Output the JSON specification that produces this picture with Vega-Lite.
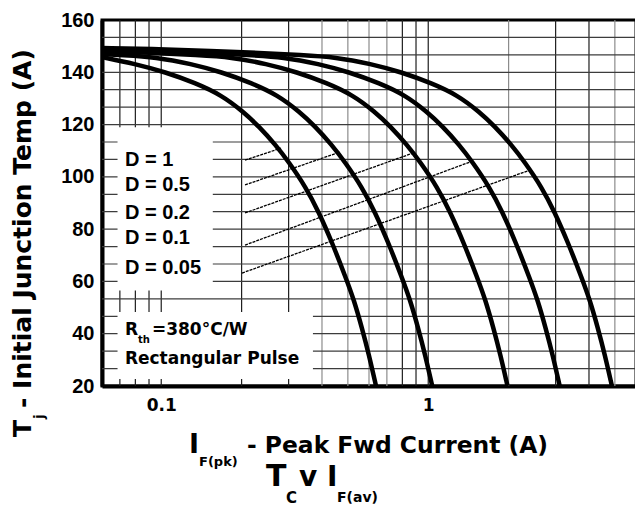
{
  "$schema": "https://vega.github.io/schema/vega-lite/v6.json",
  "width": 534,
  "height": 366,
  "autosize": {"type": "none"},
  "padding": {"left": 102, "top": 20, "right": 0, "bottom": 122},
  "background": "white",
  "config": {
    "view": {"stroke": "black", "strokeWidth": 3},
    "axis": {"labelColor": "black", "domainColor": "black"}
  },
  "datasets": {
    "vdark": [{"x": 0.07}, {"x": 0.08}, {"x": 0.09}, {"x": 0.1}, {"x": 0.2}, {"x": 0.3}, {"x": 0.8}, {"x": 0.9}, {"x": 1}, {"x": 3}, {"x": 4}],
    "vlight": [{"x": 0.4}, {"x": 0.5}, {"x": 0.6}, {"x": 0.7}, {"x": 2}, {"x": 5}],
    "hgrid": [{"y": 26.667}, {"y": 33.333}, {"y": 40}, {"y": 46.667}, {"y": 53.333}, {"y": 60}, {"y": 66.667}, {"y": 73.333}, {"y": 80}, {"y": 86.667}, {"y": 93.333}, {"y": 100}, {"y": 106.667}, {"y": 113.333}, {"y": 120}, {"y": 126.667}, {"y": 133.333}, {"y": 140}, {"y": 146.667}, {"y": 153.333}],
    "masks": [
      {"x": 0.0686, "x2": 0.156, "y": 56.5, "y2": 119},
      {"x": 0.0686, "x2": 0.37, "y": 22.7, "y2": 48.3}
    ],
    "leaders": [
      {"id": "1", "x": 0.206, "y": 106.4}, {"id": "1", "x": 0.281, "y": 111.0},
      {"id": "0.5", "x": 0.206, "y": 96.9}, {"id": "0.5", "x": 0.467, "y": 109.5},
      {"id": "0.2", "x": 0.206, "y": 86.2}, {"id": "0.2", "x": 0.877, "y": 109.1},
      {"id": "0.1", "x": 0.206, "y": 73.9}, {"id": "0.1", "x": 1.471, "y": 106.1},
      {"id": "0.05", "x": 0.2007, "y": 63.2}, {"id": "0.05", "x": 2.405, "y": 102.6}
    ],
    "curves": [
      {"D": "1", "x": 0.06, "y": 145.8}, {"D": "1", "x": 0.0798, "y": 143.2}, {"D": "1", "x": 0.1035, "y": 140.1}, {"D": "1", "x": 0.1342, "y": 135.9}, {"D": "1", "x": 0.1681, "y": 131.3}, {"D": "1", "x": 0.2034, "y": 124.8}, {"D": "1", "x": 0.2316, "y": 119.4}, {"D": "1", "x": 0.2683, "y": 112.2}, {"D": "1", "x": 0.3001, "y": 105.7}, {"D": "1", "x": 0.3478, "y": 96.1}, {"D": "1", "x": 0.3893, "y": 86.5}, {"D": "1", "x": 0.4356, "y": 75.1}, {"D": "1", "x": 0.4918, "y": 61.3}, {"D": "1", "x": 0.527, "y": 52.9}, {"D": "1", "x": 0.5647, "y": 42.2}, {"D": "1", "x": 0.6001, "y": 31.8}, {"D": "1", "x": 0.6374, "y": 20},
      {"D": "0.5", "x": 0.06, "y": 147.0}, {"D": "0.5", "x": 0.0707, "y": 146.6}, {"D": "0.5", "x": 0.0958, "y": 145.8}, {"D": "0.5", "x": 0.1296, "y": 143.2}, {"D": "0.5", "x": 0.168, "y": 140.1}, {"D": "0.5", "x": 0.2179, "y": 135.9}, {"D": "0.5", "x": 0.2729, "y": 131.3}, {"D": "0.5", "x": 0.3302, "y": 124.8}, {"D": "0.5", "x": 0.376, "y": 119.4}, {"D": "0.5", "x": 0.4356, "y": 112.2}, {"D": "0.5", "x": 0.4872, "y": 105.7}, {"D": "0.5", "x": 0.5647, "y": 96.1}, {"D": "0.5", "x": 0.6321, "y": 86.5}, {"D": "0.5", "x": 0.7072, "y": 75.1}, {"D": "0.5", "x": 0.7985, "y": 61.3}, {"D": "0.5", "x": 0.8556, "y": 52.9}, {"D": "0.5", "x": 0.9168, "y": 42.2}, {"D": "0.5", "x": 0.9743, "y": 31.8}, {"D": "0.5", "x": 1.0349, "y": 20},
      {"D": "0.2", "x": 0.06, "y": 148.1}, {"D": "0.2", "x": 0.0958, "y": 147.4}, {"D": "0.2", "x": 0.1353, "y": 146.6}, {"D": "0.2", "x": 0.1834, "y": 145.8}, {"D": "0.2", "x": 0.248, "y": 143.2}, {"D": "0.2", "x": 0.3217, "y": 140.1}, {"D": "0.2", "x": 0.4171, "y": 135.9}, {"D": "0.2", "x": 0.5225, "y": 131.3}, {"D": "0.2", "x": 0.6322, "y": 124.8}, {"D": "0.2", "x": 0.7198, "y": 119.4}, {"D": "0.2", "x": 0.8339, "y": 112.2}, {"D": "0.2", "x": 0.9327, "y": 105.7}, {"D": "0.2", "x": 1.081, "y": 96.1}, {"D": "0.2", "x": 1.21, "y": 86.5}, {"D": "0.2", "x": 1.354, "y": 75.1}, {"D": "0.2", "x": 1.529, "y": 61.3}, {"D": "0.2", "x": 1.638, "y": 52.9}, {"D": "0.2", "x": 1.755, "y": 42.2}, {"D": "0.2", "x": 1.865, "y": 31.8}, {"D": "0.2", "x": 1.981, "y": 20},
      {"D": "0.1", "x": 0.06, "y": 148.9}, {"D": "0.1", "x": 0.0974, "y": 148.1}, {"D": "0.1", "x": 0.1502, "y": 147.4}, {"D": "0.1", "x": 0.2123, "y": 146.6}, {"D": "0.1", "x": 0.2876, "y": 145.8}, {"D": "0.1", "x": 0.389, "y": 143.2}, {"D": "0.1", "x": 0.5046, "y": 140.1}, {"D": "0.1", "x": 0.6542, "y": 135.9}, {"D": "0.1", "x": 0.8195, "y": 131.3}, {"D": "0.1", "x": 0.9916, "y": 124.8}, {"D": "0.1", "x": 1.129, "y": 119.4}, {"D": "0.1", "x": 1.308, "y": 112.2}, {"D": "0.1", "x": 1.463, "y": 105.7}, {"D": "0.1", "x": 1.696, "y": 96.1}, {"D": "0.1", "x": 1.898, "y": 86.5}, {"D": "0.1", "x": 2.124, "y": 75.1}, {"D": "0.1", "x": 2.398, "y": 61.3}, {"D": "0.1", "x": 2.569, "y": 52.9}, {"D": "0.1", "x": 2.753, "y": 42.2}, {"D": "0.1", "x": 2.926, "y": 31.8}, {"D": "0.1", "x": 3.107, "y": 20},
      {"D": "0.05", "x": 0.06, "y": 149.3}, {"D": "0.05", "x": 0.0991, "y": 148.9}, {"D": "0.05", "x": 0.1528, "y": 148.1}, {"D": "0.05", "x": 0.2356, "y": 147.4}, {"D": "0.05", "x": 0.3331, "y": 146.6}, {"D": "0.05", "x": 0.4512, "y": 145.8}, {"D": "0.05", "x": 0.6103, "y": 143.2}, {"D": "0.05", "x": 0.7916, "y": 140.1}, {"D": "0.05", "x": 1.026, "y": 135.9}, {"D": "0.05", "x": 1.286, "y": 131.3}, {"D": "0.05", "x": 1.556, "y": 124.8}, {"D": "0.05", "x": 1.771, "y": 119.4}, {"D": "0.05", "x": 2.052, "y": 112.2}, {"D": "0.05", "x": 2.295, "y": 105.7}, {"D": "0.05", "x": 2.66, "y": 96.1}, {"D": "0.05", "x": 2.977, "y": 86.5}, {"D": "0.05", "x": 3.331, "y": 75.1}, {"D": "0.05", "x": 3.761, "y": 61.3}, {"D": "0.05", "x": 4.03, "y": 52.9}, {"D": "0.05", "x": 4.319, "y": 42.2}, {"D": "0.05", "x": 4.59, "y": 31.8}, {"D": "0.05", "x": 4.875, "y": 20}
    ],
    "dlabels": [
      {"x": 0.0731, "y": 106.4, "t": "D = 1"},
      {"x": 0.0731, "y": 96.9, "t": "D = 0.5"},
      {"x": 0.0731, "y": 86.2, "t": "D = 0.2"},
      {"x": 0.0731, "y": 76.6, "t": "D = 0.1"},
      {"x": 0.0731, "y": 65.1, "t": "D = 0.05"}
    ],
    "notes": [
      {"x": 0.0731, "y": 41.4, "t": "R"},
      {"x": 0.0923, "y": 41.4, "t": "=380°C/W"},
      {"x": 0.0731, "y": 30.3, "t": "Rectangular Pulse"}
    ],
    "notesub": [
      {"x": 0.0818, "y": 37.6, "t": "th"}
    ]
  },
  "layer": [
    {
      "data": {"name": "vlight"},
      "mark": {"type": "rule", "color": "#8c8c8c", "strokeWidth": 1.2},
      "encoding": {
        "x": {"field": "x", "type": "quantitative", "scale": {"type": "log", "domain": [0.06, 6], "nice": false},
          "axis": {"values": [0.1, 1], "format": "~g", "ticks": false, "grid": false, "domain": true, "domainWidth": 4, "domainColor": "black", "labelFont": "DejaVu Sans", "labelFontWeight": "bold", "labelFontSize": 17, "labelColor": "black", "labelPadding": 11, "labelFlush": false, "labelOverlap": false, "title": null}}
      }
    },
    {
      "data": {"name": "vdark"},
      "mark": {"type": "rule", "color": "#1e1e1e", "strokeWidth": 1.2},
      "encoding": {
        "x": {"field": "x", "type": "quantitative", "scale": {"type": "log", "domain": [0.06, 6], "nice": false}, "title": null}
      }
    },
    {
      "data": {"name": "hgrid"},
      "mark": {"type": "rule", "color": "#3c3c3c", "strokeWidth": 1.2},
      "encoding": {
        "y": {"field": "y", "type": "quantitative", "scale": {"domain": [20, 160], "zero": false, "nice": false},
          "axis": {"values": [20, 40, 60, 80, 100, 120, 140, 160], "ticks": false, "grid": false, "domain": true, "domainWidth": 4, "domainColor": "black", "labelFont": "Liberation Sans", "labelFontWeight": "bold", "labelFontSize": 20, "labelColor": "black", "labelPadding": 8, "labelFlush": false, "labelOverlap": false, "title": null}}
      }
    },
    {
      "data": {"name": "masks"},
      "mark": {"type": "rect", "color": "white", "opacity": 1},
      "encoding": {
        "x": {"field": "x", "type": "quantitative", "scale": {"type": "log", "domain": [0.06, 6], "nice": false}, "title": null},
        "x2": {"field": "x2"},
        "y": {"field": "y", "type": "quantitative", "scale": {"domain": [20, 160], "zero": false, "nice": false}, "title": null},
        "y2": {"field": "y2"}
      }
    },
    {
      "data": {"name": "leaders"},
      "mark": {"type": "line", "color": "black", "strokeWidth": 1.3, "strokeDash": [3, 1]},
      "encoding": {
        "x": {"field": "x", "type": "quantitative", "scale": {"type": "log", "domain": [0.06, 6], "nice": false}, "title": null},
        "y": {"field": "y", "type": "quantitative", "scale": {"domain": [20, 160], "zero": false, "nice": false}, "title": null},
        "detail": {"field": "id"}
      }
    },
    {
      "data": {"name": "curves"},
      "mark": {"type": "line", "color": "black", "strokeWidth": 4.5, "interpolate": "basis"},
      "encoding": {
        "x": {"field": "x", "type": "quantitative", "scale": {"type": "log", "domain": [0.06, 6], "nice": false}, "title": null},
        "y": {"field": "y", "type": "quantitative", "scale": {"domain": [20, 160], "zero": false, "nice": false}, "title": null},
        "detail": {"field": "D"}
      }
    },
    {
      "data": {"name": "dlabels"},
      "mark": {"type": "text", "align": "left", "baseline": "middle", "font": "Liberation Sans", "fontWeight": "bold", "fontSize": 20, "color": "black"},
      "encoding": {
        "x": {"field": "x", "type": "quantitative", "scale": {"type": "log", "domain": [0.06, 6], "nice": false}, "title": null},
        "y": {"field": "y", "type": "quantitative", "scale": {"domain": [20, 160], "zero": false, "nice": false}, "title": null},
        "text": {"field": "t"}
      }
    },
    {
      "data": {"name": "notes"},
      "mark": {"type": "text", "align": "left", "baseline": "middle", "font": "DejaVu Sans", "fontWeight": "bold", "fontSize": 17, "color": "black"},
      "encoding": {
        "x": {"field": "x", "type": "quantitative", "scale": {"type": "log", "domain": [0.06, 6], "nice": false}, "title": null},
        "y": {"field": "y", "type": "quantitative", "scale": {"domain": [20, 160], "zero": false, "nice": false}, "title": null},
        "text": {"field": "t"}
      }
    },
    {
      "data": {"name": "notesub"},
      "mark": {"type": "text", "align": "left", "baseline": "middle", "font": "DejaVu Sans", "fontWeight": "bold", "fontSize": 10, "color": "black"},
      "encoding": {
        "x": {"field": "x", "type": "quantitative", "scale": {"type": "log", "domain": [0.06, 6], "nice": false}, "title": null},
        "y": {"field": "y", "type": "quantitative", "scale": {"domain": [20, 160], "zero": false, "nice": false}, "title": null},
        "text": {"field": "t"}
      }
    },
    {
      "data": {"values": [{"x": 0.06, "y": 20, "t": "T"}]},
      "mark": {"type": "text", "align": "left", "baseline": "alphabetic", "angle": 270, "dx": -51, "dy": -71, "font": "DejaVu Sans", "fontWeight": "bold", "fontSize": 25, "color": "black", "clip": false},
      "encoding": {
        "x": {"field": "x", "type": "quantitative", "scale": {"type": "log", "domain": [0.06, 6], "nice": false}, "title": null},
        "y": {"field": "y", "type": "quantitative", "scale": {"domain": [20, 160], "zero": false, "nice": false}, "title": null},
        "text": {"field": "t"}
      }
    },
    {
      "data": {"values": [{"x": 0.06, "y": 20, "t": "j"}]},
      "mark": {"type": "text", "align": "left", "baseline": "alphabetic", "angle": 270, "dx": -33, "dy": -58, "font": "DejaVu Sans", "fontWeight": "bold", "fontSize": 14, "color": "black", "clip": false},
      "encoding": {
        "x": {"field": "x", "type": "quantitative", "scale": {"type": "log", "domain": [0.06, 6], "nice": false}, "title": null},
        "y": {"field": "y", "type": "quantitative", "scale": {"domain": [20, 160], "zero": false, "nice": false}, "title": null},
        "text": {"field": "t"}
      }
    },
    {
      "data": {"values": [{"x": 0.06, "y": 20, "t": "- Initial Junction Temp (A)"}]},
      "mark": {"type": "text", "align": "left", "baseline": "alphabetic", "angle": 270, "dx": -22, "dy": -71, "font": "DejaVu Sans", "fontWeight": "bold", "fontSize": 25, "color": "black", "clip": false},
      "encoding": {
        "x": {"field": "x", "type": "quantitative", "scale": {"type": "log", "domain": [0.06, 6], "nice": false}, "title": null},
        "y": {"field": "y", "type": "quantitative", "scale": {"domain": [20, 160], "zero": false, "nice": false}, "title": null},
        "text": {"field": "t"}
      }
    },
    {
      "data": {"values": [{"x": 0.06, "y": 20, "t": "I"}]},
      "mark": {"type": "text", "align": "left", "baseline": "alphabetic", "dx": 87, "dy": 67, "font": "DejaVu Sans", "fontWeight": "bold", "fontSize": 27, "color": "black"},
      "encoding": {
        "x": {"field": "x", "type": "quantitative", "scale": {"type": "log", "domain": [0.06, 6], "nice": false}, "title": null},
        "y": {"field": "y", "type": "quantitative", "scale": {"domain": [20, 160], "zero": false, "nice": false}, "title": null},
        "text": {"field": "t"}
      }
    },
    {
      "data": {"values": [{"x": 0.06, "y": 20, "t": "F(pk)"}]},
      "mark": {"type": "text", "align": "left", "baseline": "alphabetic", "dx": 97, "dy": 80, "font": "DejaVu Sans", "fontWeight": "bold", "fontSize": 13, "color": "black"},
      "encoding": {
        "x": {"field": "x", "type": "quantitative", "scale": {"type": "log", "domain": [0.06, 6], "nice": false}, "title": null},
        "y": {"field": "y", "type": "quantitative", "scale": {"domain": [20, 160], "zero": false, "nice": false}, "title": null},
        "text": {"field": "t"}
      }
    },
    {
      "data": {"values": [{"x": 0.06, "y": 20, "t": "- Peak Fwd Current (A)"}]},
      "mark": {"type": "text", "align": "left", "baseline": "alphabetic", "dx": 145, "dy": 67, "font": "DejaVu Sans", "fontWeight": "bold", "fontSize": 23.4, "color": "black"},
      "encoding": {
        "x": {"field": "x", "type": "quantitative", "scale": {"type": "log", "domain": [0.06, 6], "nice": false}, "title": null},
        "y": {"field": "y", "type": "quantitative", "scale": {"domain": [20, 160], "zero": false, "nice": false}, "title": null},
        "text": {"field": "t"}
      }
    },
    {
      "data": {"values": [{"x": 0.06, "y": 20, "t": "T"}]},
      "mark": {"type": "text", "align": "left", "baseline": "alphabetic", "dx": 164, "dy": 100, "font": "DejaVu Sans", "fontWeight": "bold", "fontSize": 30, "color": "black"},
      "encoding": {
        "x": {"field": "x", "type": "quantitative", "scale": {"type": "log", "domain": [0.06, 6], "nice": false}, "title": null},
        "y": {"field": "y", "type": "quantitative", "scale": {"domain": [20, 160], "zero": false, "nice": false}, "title": null},
        "text": {"field": "t"}
      }
    },
    {
      "data": {"values": [{"x": 0.06, "y": 20, "t": "C"}]},
      "mark": {"type": "text", "align": "left", "baseline": "alphabetic", "dx": 184, "dy": 117, "font": "DejaVu Sans", "fontWeight": "bold", "fontSize": 15, "color": "black"},
      "encoding": {
        "x": {"field": "x", "type": "quantitative", "scale": {"type": "log", "domain": [0.06, 6], "nice": false}, "title": null},
        "y": {"field": "y", "type": "quantitative", "scale": {"domain": [20, 160], "zero": false, "nice": false}, "title": null},
        "text": {"field": "t"}
      }
    },
    {
      "data": {"values": [{"x": 0.06, "y": 20, "t": "v I"}]},
      "mark": {"type": "text", "align": "left", "baseline": "alphabetic", "dx": 197, "dy": 100, "font": "DejaVu Sans", "fontWeight": "bold", "fontSize": 28, "color": "black"},
      "encoding": {
        "x": {"field": "x", "type": "quantitative", "scale": {"type": "log", "domain": [0.06, 6], "nice": false}, "title": null},
        "y": {"field": "y", "type": "quantitative", "scale": {"domain": [20, 160], "zero": false, "nice": false}, "title": null},
        "text": {"field": "t"}
      }
    },
    {
      "data": {"values": [{"x": 0.06, "y": 20, "t": "F(av)"}]},
      "mark": {"type": "text", "align": "left", "baseline": "alphabetic", "dx": 235, "dy": 116, "font": "DejaVu Sans", "fontWeight": "bold", "fontSize": 14, "color": "black"},
      "encoding": {
        "x": {"field": "x", "type": "quantitative", "scale": {"type": "log", "domain": [0.06, 6], "nice": false}, "title": null},
        "y": {"field": "y", "type": "quantitative", "scale": {"domain": [20, 160], "zero": false, "nice": false}, "title": null},
        "text": {"field": "t"}
      }
    }
  ]
}
